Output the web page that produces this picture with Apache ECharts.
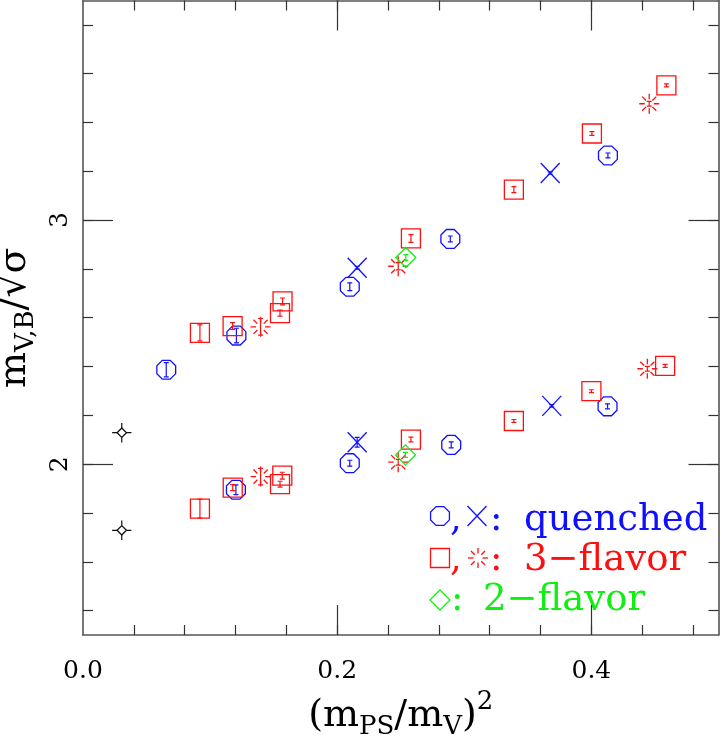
<!DOCTYPE html>
<html><head><meta charset="utf-8">
<script src="https://cdn.jsdelivr.net/npm/echarts@6/dist/echarts.min.js"></script>
<style>html,body{margin:0;padding:0;background:#fff}#c{width:720px;height:739px}</style>
</head><body><div id="c"></div>
<script>
// ---- axis ticks / labels ----
const xMajorTicks = [0.2, 0.4];
const xMinorTicks = [0.04, 0.08, 0.12, 0.16, 0.2, 0.24, 0.28, 0.32, 0.36, 0.4, 0.44, 0.48];
const xTickLabels = [0.0, 0.2, 0.4];
const yMajorTicks = [2, 3];
const yMinorTicks = [1.4, 1.6, 1.8, 2.0, 2.2, 2.4, 2.6, 2.8, 3.0, 3.2, 3.4, 3.6, 3.8];
const yTickLabels = [2, 3];

// ---- quenched: octagons ----
const octX   = [0.0655, 0.1207, 0.2099, 0.2890, 0.4130, 0.1203, 0.2099, 0.2897, 0.4127];
const octY   = [2.387, 2.527, 2.727, 2.923, 3.265, 1.895, 2.004, 2.079, 2.237];
const octErr = [0.029, 0.030, 0.016, 0.012, 0.010, 0.020, 0.012, 0.012, 0.010];
// ---- quenched: crosses ----
const crsX   = [0.2157, 0.3676, 0.2157, 0.3688];
const crsY   = [2.805, 3.193, 2.090, 2.239];
const crsErr = [0.006, 0.005, 0.020, 0.005];
// ---- 3-flavor: squares ----
const sqX   = [0.092, 0.1177, 0.155, 0.157, 0.258, 0.339, 0.4004, 0.459, 0.092, 0.1178, 0.155, 0.1568, 0.258, 0.339, 0.400, 0.458];
const sqY   = [2.538, 2.566, 2.619, 2.667, 2.925, 3.125, 3.355, 3.552, 1.818, 1.904, 1.918, 1.953, 2.101, 2.177, 2.299, 2.403];
const sqErr = [0.033, 0.014, 0.012, 0.014, 0.016, 0.012, 0.008, 0.006, 0.039, 0.012, 0.012, 0.014, 0.010, 0.006, 0.006, 0.006];
// ---- 3-flavor: bursts ----
const brX   = [0.1397, 0.248, 0.4455, 0.1397, 0.248, 0.444];
const brY   = [2.563, 2.811, 3.477, 1.949, 2.008, 2.391];
const brErr = [0.034, 0.015, 0.010, 0.034, 0.012, 0.010];
// ---- 2-flavor: diamonds ----
const dmX   = [0.254, 0.2537];
const dmY   = [2.847, 2.038];
const dmErr = [0.012, 0.010];
// ---- black reference points ----
const bkX    = [0.0305, 0.0305];
const bkY    = [2.129, 1.729];
const bkYErr = [0.040, 0.040];
const bkXErr = [0.0076, 0.0076];

const BLUE = '#1010ff', RED = '#ff1010', GREEN = '#10f010', BLACK = '#111';
const SERIF = '"DejaVu Serif", "Liberation Serif", serif';

function zip3(a, b, c) { return a.map((v, i) => [v, b[i], c[i]]); }

function shapeFor(kind, cx, cy, color) {
  const st = { stroke: color, lineWidth: 1.3, fill: 'none' };
  const out = [];
  if (kind === 'oct') {
    const R = 10.2, pts = [];
    for (let k = 0; k < 8; k++) {
      const a = (22.5 + 45 * k) * Math.PI / 180;
      pts.push([cx + R * Math.cos(a), cy + R * Math.sin(a)]);
    }
    out.push({ type: 'polygon', shape: { points: pts }, style: st });
  } else if (kind === 'sq') {
    out.push({ type: 'rect', shape: { x: cx - 9.5, y: cy - 9.5, width: 19, height: 19 }, style: st });
  } else if (kind === 'crs') {
    out.push({ type: 'line', shape: { x1: cx - 9.5, y1: cy - 10, x2: cx + 9.5, y2: cy + 10 }, style: st });
    out.push({ type: 'line', shape: { x1: cx - 9.5, y1: cy + 10, x2: cx + 9.5, y2: cy - 10 }, style: st });
  } else if (kind === 'br') {
    for (let k = 0; k < 8; k++) {
      const a = (45 * k) * Math.PI / 180;
      const r1 = 4.5, r2 = 10;
      out.push({ type: 'line', shape: { x1: cx + r1 * Math.cos(a), y1: cy + r1 * Math.sin(a), x2: cx + r2 * Math.cos(a), y2: cy + r2 * Math.sin(a) }, style: st });
    }
  } else if (kind === 'dm') {
    const R = 10;
    out.push({ type: 'polygon', shape: { points: [[cx, cy - R], [cx + R, cy], [cx, cy + R], [cx - R, cy]] }, style: st });
  } else if (kind === 'bk') {
    const R = 4.7;
    out.push({ type: 'polygon', shape: { points: [[cx, cy - R], [cx + R, cy], [cx, cy + R], [cx - R, cy]] }, style: st });
  }
  return out;
}

function makeRender(kind, color) {
  return function (params, api) {
    const x = api.value(0), y = api.value(1), e = api.value(2);
    const c = api.coord([x, y]);
    const t = api.coord([x, y + e]);
    const b = api.coord([x, y - e]);
    const st = { stroke: color, lineWidth: 1.2 };
    const ch = [];
    ch.push({ type: 'line', shape: { x1: c[0], y1: t[1], x2: c[0], y2: b[1] }, style: st });
    ch.push({ type: 'line', shape: { x1: c[0] - 2.5, y1: t[1], x2: c[0] + 2.5, y2: t[1] }, style: st });
    ch.push({ type: 'line', shape: { x1: c[0] - 2.5, y1: b[1], x2: c[0] + 2.5, y2: b[1] }, style: st });
    if (kind === 'bk') {
      const xe = api.value(3);
      const l = api.coord([x - xe, y]), r = api.coord([x + xe, y]);
      ch.length = 0;
      ch.push({ type: 'line', shape: { x1: c[0], y1: t[1], x2: c[0], y2: c[1] - 4.7 }, style: st });
      ch.push({ type: 'line', shape: { x1: c[0], y1: c[1] + 4.7, x2: c[0], y2: b[1] }, style: st });
      ch.push({ type: 'line', shape: { x1: l[0], y1: c[1], x2: c[0] - 4.7, y2: c[1] }, style: st });
      ch.push({ type: 'line', shape: { x1: c[0] + 4.7, y1: c[1], x2: r[0], y2: c[1] }, style: st });
    }
    return { type: 'group', children: ch.concat(shapeFor(kind, c[0], c[1], color)) };
  };
}

function customSeries(name, kind, color, data) {
  return { name, type: 'custom', xAxisIndex: 0, yAxisIndex: 0, renderItem: makeRender(kind, color),
           data, clip: true, silent: true, encode: { x: 0, y: 1 } };
}

function xAx(pos, ticks, len, showLine, labels) {
  return {
    type: 'value', gridIndex: 0, position: pos, min: 0, max: 0.5,
    axisLine: { show: showLine, onZero: false, lineStyle: { color: '#555', width: 1.6 } },
    axisTick: { show: true, inside: true, length: len, customValues: ticks, lineStyle: { color: '#333', width: 1.2 } },
    axisLabel: labels ? { show: true, customValues: xTickLabels, formatter: v => v.toFixed(1), fontFamily: SERIF, fontSize: 25, color: '#000', margin: 24 } : { show: false },
    splitLine: { show: false }
  };
}
function yAx(pos, ticks, len, showLine, labels) {
  return {
    type: 'value', gridIndex: 0, position: pos, min: 1.3, max: 3.9,
    axisLine: { show: showLine, onZero: false, lineStyle: { color: '#555', width: 1.6 } },
    axisTick: { show: true, inside: true, length: len, customValues: ticks, lineStyle: { color: '#333', width: 1.2 } },
    axisLabel: labels ? { show: true, customValues: yTickLabels, formatter: v => String(v), rotate: 90, fontFamily: SERIF, fontSize: 25, color: '#000', margin: 10 } : { show: false },
    splitLine: { show: false }
  };
}

const xAxes = [xAx('bottom', xMinorTicks, 10, true, true), xAx('bottom', xMajorTicks, 30, false, false),
               xAx('top', xMinorTicks, 10, true, false), xAx('top', xMajorTicks, 30, false, false)];
xAxes[0].name = '(m{sub|PS}/m{sub|V}){sup|2}';
xAxes[0].nameLocation = 'middle';
xAxes[0].nameGap = 54;
xAxes[0].nameTextStyle = {
  fontFamily: SERIF, fontSize: 38, color: '#000', lineHeight: 50,
  rich: {
    sub: { fontFamily: SERIF, fontSize: 26, color: '#000', lineHeight: 50, padding: [22, 0, 0, 0] },
    sup: { fontFamily: SERIF, fontSize: 26, color: '#000', lineHeight: 50, padding: [0, 0, 28, 0] }
  }
};
const yAxes = [yAx('left', yMinorTicks, 10, true, true), yAx('left', yMajorTicks, 30, false, false),
               yAx('right', yMinorTicks, 10, true, false), yAx('right', yMajorTicks, 30, false, false)];
yAxes[0].name = 'm{sub|V,B}/\u221A\u03C3\u0305';
yAxes[0].nameLocation = 'middle';
yAxes[0].nameRotate = 90;
yAxes[0].nameGap = 28;
yAxes[0].nameTextStyle = {
  fontFamily: SERIF, fontSize: 38, color: '#000', lineHeight: 50, padding: [0, 0, 0, 0],
  rich: { sub: { fontFamily: SERIF, fontSize: 26, color: '#000', lineHeight: 50, padding: [22, 0, 0, 0] } }
};

const legFont = { fontFamily: SERIF, fontSize: 37 };
function txt(x, y, s, color) {
  return { type: 'text', x, y, silent: true, style: Object.assign({ text: s, fill: color, textVerticalAlign: 'middle', textAlign: 'left' }, legFont) };
}
const legend = []
  .concat(shapeFor('oct', 440, 516, BLUE), shapeFor('crs', 477, 516, BLUE))
  .concat(shapeFor('sq', 440, 558, RED), shapeFor('br', 478, 558, RED))
  .concat(shapeFor('dm', 440, 600, GREEN))
  .map(g => Object.assign({ silent: true }, g))
  .concat([txt(450, 520, ',', BLUE), txt(490, 520, ':', BLUE), txt(524, 520, 'quenched', BLUE),
           txt(450, 560, ',', RED), txt(490, 560, ':', RED), txt(524, 560, '3\u2212flavor', RED),
           txt(451, 600, ':', GREEN), txt(483, 600, '2\u2212flavor', GREEN)]);

const chart = echarts.init(document.getElementById('c'), null, { renderer: 'canvas' });
chart.setOption({
  animation: false,
  backgroundColor: '#fff',
  grid: [{ left: 83, right: 1.5, top: 0.5, bottom: 104, containLabel: false, outerBoundsMode: 'none' }],
  xAxis: xAxes,
  yAxis: yAxes,
  graphic: legend,
  series: [
    customSeries('octagon', 'oct', BLUE, zip3(octX, octY, octErr)),
    customSeries('cross', 'crs', BLUE, zip3(crsX, crsY, crsErr)),
    customSeries('square', 'sq', RED, zip3(sqX, sqY, sqErr)),
    customSeries('burst', 'br', RED, zip3(brX, brY, brErr)),
    customSeries('diamond', 'dm', GREEN, zip3(dmX, dmY, dmErr)),
    customSeries('black', 'bk', BLACK, bkX.map((v, i) => [v, bkY[i], bkYErr[i], bkXErr[i]]))
  ]
});
</script></body></html>
